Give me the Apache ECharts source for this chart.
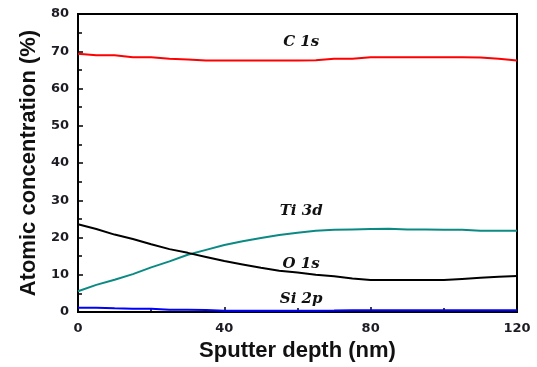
<!DOCTYPE html>
<html lang="en">
  <head>
    <meta charset="UTF-8" />
    <script src="https://cdn.jsdelivr.net/npm/echarts@6/dist/echarts.min.js"></script>
    <title>Depth profile</title>
    <style>
      html, body { margin: 0; padding: 0; background: #fff; }
      #app { width: 537px; height: 367px; }
    </style>
  </head>
  <body>
    <div id="app"></div>

    <script>
      // sputter depth (nm)
      const depth = [0, 5, 10, 15, 20, 25, 30, 35, 40, 45, 50, 55, 60, 65, 70, 75, 80, 85, 90, 95, 100, 105, 110, 115, 120];
      const c1s = [69.3, 68.9, 68.9, 68.4, 68.4, 68.0, 67.8, 67.5, 67.5, 67.5, 67.5, 67.5, 67.5, 67.6, 68.0, 68.0, 68.4, 68.4, 68.4, 68.4, 68.4, 68.4, 68.3, 68.0, 67.5];
      const ti3d = [5.6, 7.3, 8.7, 10.2, 12.0, 13.6, 15.4, 16.7, 18.0, 19.0, 19.9, 20.7, 21.3, 21.8, 22.1, 22.2, 22.3, 22.4, 22.2, 22.2, 22.1, 22.1, 21.8, 21.8, 21.8];
      const o1s = [23.6, 22.3, 20.8, 19.6, 18.2, 16.9, 15.9, 14.8, 13.7, 12.8, 11.9, 11.1, 10.6, 10.0, 9.6, 9.0, 8.6, 8.6, 8.6, 8.6, 8.6, 8.9, 9.2, 9.5, 9.7];
      const si2p = [1.2, 1.2, 1.0, 0.9, 0.9, 0.6, 0.6, 0.55, 0.35, 0.35, 0.35, 0.35, 0.35, 0.35, 0.4, 0.5, 0.5, 0.5, 0.5, 0.5, 0.5, 0.5, 0.5, 0.5, 0.5];

      // peak names placed in data coordinates
      const peakNames = ["C 1s", "Ti 3d", "O 1s", "Si 2p"];
      const peakLabelPos = [[61, 72.4], [61, 27.1], [61, 12.8], [61, 3.6]];

      const pair = (ys) => depth.map((d, i) => [d, ys[i]]);
      const tickFont = { color: "#1c1c24", fontWeight: "bold", fontSize: 13, fontFamily: "DejaVu Sans" };
      const titleFont = { color: "#111", fontWeight: "bold", fontSize: 22, fontFamily: "Liberation Sans, Arial" };

      const chart = echarts.init(document.getElementById("app"));

      chart.setOption({
        animation: false,
        grid: {
          left: 78, right: 20, top: 14, bottom: 54,
          show: true, borderColor: "#000", borderWidth: 2,
        },
        xAxis: {
          type: "value",
          min: 0, max: 120, interval: 40,
          name: "Sputter depth (nm)",
          nameLocation: "middle",
          nameGap: 27,
          nameTextStyle: titleFont,
          axisLine: { lineStyle: { color: "#000", width: 2 } },
          axisTick: { inside: true, length: 5, lineStyle: { color: "#000", width: 1.5 } },
          minorTick: { show: true, splitNumber: 2, length: 4, lineStyle: { color: "#000", width: 1.5 } },
          axisLabel: Object.assign({ margin: 10 }, tickFont),
          splitLine: { show: false },
        },
        yAxis: {
          type: "value",
          min: 0, max: 80, interval: 10,
          name: "Atomic concentration (%)",
          nameLocation: "middle",
          nameGap: 38,
          nameTextStyle: titleFont,
          axisLine: { lineStyle: { color: "#000", width: 2 } },
          axisTick: { inside: true, length: 5, lineStyle: { color: "#000", width: 1.5 } },
          minorTick: { show: true, splitNumber: 2, length: 4, lineStyle: { color: "#000", width: 1.5 } },
          axisLabel: Object.assign({ margin: 9 }, tickFont),
          splitLine: { show: false },
        },
        series: [
          { name: "C 1s", type: "line", data: pair(c1s), showSymbol: false, lineStyle: { color: "#ff0000", width: 2 } },
          { name: "Ti 3d", type: "line", data: pair(ti3d), showSymbol: false, lineStyle: { color: "#0b8a84", width: 2 } },
          { name: "O 1s", type: "line", data: pair(o1s), showSymbol: false, lineStyle: { color: "#000", width: 2 } },
          { name: "Si 2p", type: "line", data: pair(si2p), showSymbol: false, lineStyle: { color: "#0000ff", width: 2 } },
          {
            type: "scatter",
            symbolSize: 0,
            itemStyle: { color: "transparent", opacity: 1 },
            data: peakLabelPos.map((p, i) => ({ value: p, name: peakNames[i] })),
            label: {
              show: true,
              position: "inside",
              formatter: "{b}",
              color: "#111",
              opacity: 1,
              textBorderWidth: 0,
              fontSize: 15,
              fontWeight: "bold",
              fontStyle: "italic",
              fontFamily: "DejaVu Serif",
            },
          },
        ],
      });
    </script>
  </body>
</html>
